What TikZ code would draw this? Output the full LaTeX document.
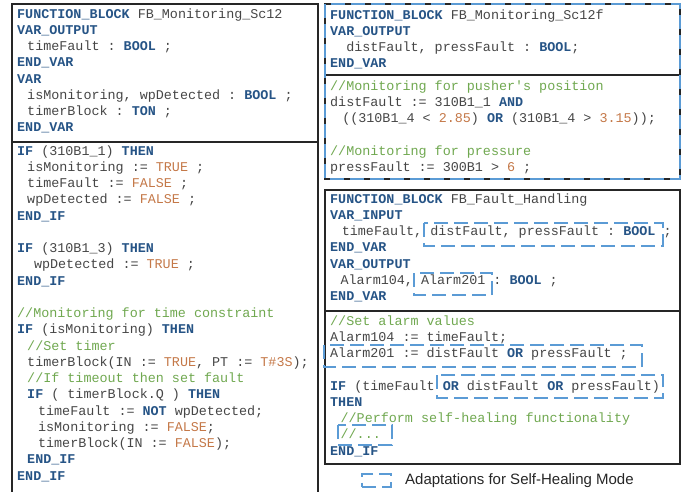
\documentclass[tikz,border=0pt]{standalone}
\usepackage{fontspec}
\setmainfont{Liberation Sans}
\setmonofont{Liberation Mono}
\usepackage{tikz}
\usetikzlibrary{positioning}
\usepackage{xcolor}

\definecolor{kwblue}{RGB}{38,84,134}
\definecolor{litorange}{RGB}{196,120,72}
\definecolor{cmtgreen}{RGB}{112,168,80}
\definecolor{codegray}{RGB}{70,70,70}
\definecolor{adaptblue}{RGB}{91,155,213}

\newlength{\codechar}
\setlength{\codechar}{8.04pt}
\newcommand{\kw}[1]{\textbf{\color{kwblue}#1}}
\newcommand{\lit}[1]{{\color{litorange}#1}}
\newcommand{\cmt}[1]{{\color{cmtgreen}#1}}
\newcommand{\ind}[1]{\hspace*{#1\codechar}}

\begin{document}
\begin{tikzpicture}[x=1pt, y=-1pt,
    code/.style={anchor=north west, inner sep=0pt, align=left, text=codegray,
        font=\ttfamily\fontsize{13.4}{16.25}\selectfont\frenchspacing},
    panel/.style={draw=black!85, line width=1.2pt},
    adapt/.style={draw=adaptblue, line width=2pt, dash pattern=on 14pt off 6pt}
]
    \useasboundingbox (0,0) rectangle (689,491);

    % Left panel: FB_Monitoring_Sc12
    \draw[panel] (12,497) -- (12,4) -- (318,4) -- (318,497);
    \draw[panel] (12,142) -- (318,142);
    \node[code] (monhead) at (17,6.6) {\strut\kw{FUNCTION\_BLOCK} FB\_Monitoring\_Sc12\\
        \kw{VAR\_OUTPUT}\\
        \ind{1.25}timeFault : \kw{BOOL} ;\\
        \kw{END\_VAR}\\
        \kw{VAR}\\
        \ind{1.25}isMonitoring, wpDetected : \kw{BOOL} ;\\
        \ind{1.25}timerBlock : \kw{TON} ;\\
        \kw{END\_VAR}};
    \node[code] (monbody) at (17,143.6) {\strut\kw{IF} (310B1\_1) \kw{THEN}\\
        \ind{1.25}isMonitoring := \lit{TRUE} ;\\
        \ind{1.25}timeFault := \lit{FALSE} ;\\
        \ind{1.25}wpDetected := \lit{FALSE} ;\\
        \kw{END\_IF}\\
        \mbox{}\\
        \kw{IF} (310B1\_3) \kw{THEN}\\
        \ind{2.1}wpDetected := \lit{TRUE} ;\\
        \kw{END\_IF}\\
        \mbox{}\\
        \cmt{//Monitoring for time constraint}\\
        \kw{IF} (isMonitoring) \kw{THEN}\\
        \ind{1.25}\cmt{//Set timer}\\
        \ind{1.25}timerBlock(IN := \lit{TRUE}, PT := \lit{T\#3S});\\
        \ind{1.25}\cmt{//If timeout then set fault}\\
        \ind{1.25}\kw{IF} ( timerBlock.Q ) \kw{THEN}\\
        \ind{2.6}timeFault := \kw{NOT} wpDetected;\\
        \ind{2.6}isMonitoring := \lit{FALSE};\\
        \ind{2.6}timerBlock(IN := \lit{FALSE});\\
        \ind{1.25}\kw{END\_IF}\\
        \kw{END\_IF}};

    % Right top panel: FB_Monitoring_Sc12f (adapted block)
    \draw[panel] (325,4) rectangle (680,179);
    \draw[panel] (325,75) -- (680,75);
    \draw[adapt] (325,4) rectangle (680,179);
    \node[code] (sc12fhead) at (330,7.6) {\strut\kw{FUNCTION\_BLOCK} FB\_Monitoring\_Sc12f\\
        \kw{VAR\_OUTPUT}\\
        \ind{2}distFault, pressFault : \kw{BOOL};\\
        \kw{END\_VAR}};
    \node[code] (sc12fbody) at (330,78.6) {\strut\cmt{//Monitoring for pusher's position}\\
        distFault := 310B1\_1 \kw{AND}\\
        \ind{1.5}((310B1\_4 < \lit{2.85}) \kw{OR} (310B1\_4 > \lit{3.15}));\\
        \mbox{}\\
        \cmt{//Monitoring for pressure}\\
        pressFault := 300B1 > \lit{6} ;};

    % Right middle panel: FB_Fault_Handling
    \draw[panel] (325,190) rectangle (680,464);
    \draw[panel] (325,311) -- (680,311);
    \node[code] (faulthead) at (330,191.6) {\strut\kw{FUNCTION\_BLOCK} FB\_Fault\_Handling\\
        \kw{VAR\_INPUT}\\
        \ind{1.45}timeFault, distFault, pressFault : \kw{BOOL} ;\\
        \kw{END\_VAR}\\
        \kw{VAR\_OUTPUT}\\
        \ind{1.3}Alarm104, Alarm201 : \kw{BOOL} ;\\
        \kw{END\_VAR}};
    \node[code] (faultbody) at (330,313.6) {\strut\cmt{//Set alarm values}\\
        Alarm104 := timeFault;\\
        Alarm201 := distFault \kw{OR} pressFault ;\\
        \mbox{}\\
        \kw{IF} (timeFault \kw{OR} distFault \kw{OR} pressFault)\\
        \kw{THEN}\\
        \ind{1.3}\cmt{//Perform self-healing functionality}\\
        \ind{1.3}\cmt{//...}\\
        \kw{END\_IF}};

    % Adaptations
    \draw[adapt] (424,223) rectangle (663,246);
    \draw[adapt] (414,273) rectangle (492,295);
    \draw[adapt] (324,345) rectangle (642,367);
    \draw[adapt] (437,375) rectangle (663,398);
    \draw[adapt] (338,425) rectangle (392,445);

    % Legend
    \node[anchor=base west, inner sep=0pt, text=black!85, font=\fontsize{15}{18}\selectfont] (legendtxt) at (405,484) {Adaptations for Self-Healing Mode};
    \node[adapt, inner sep=0pt, minimum width=29pt, minimum height=13pt, left=13pt of legendtxt] (legendkey) {};
\end{tikzpicture}
\end{document}
